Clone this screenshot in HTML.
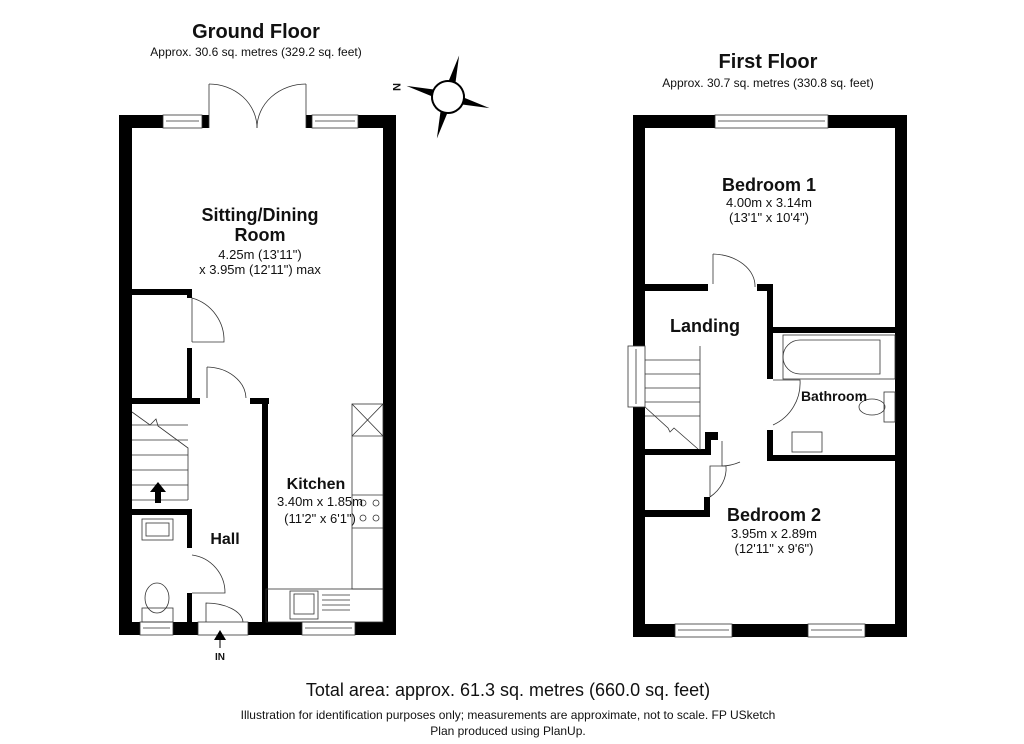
<!DOCTYPE html>
<html><head><meta charset="utf-8"><style>
html,body{margin:0;padding:0;background:#fff;}
svg{display:block;}
text{font-family:"Liberation Sans",Arial,sans-serif;fill:#111;}
.b{font-weight:bold;}
</style></head><body>
<svg width="1024" height="744" viewBox="0 0 1024 744" xmlns="http://www.w3.org/2000/svg">
<text x="256" y="38" font-size="20" class="b" text-anchor="middle">Ground Floor</text>
<text x="256" y="56" font-size="12" text-anchor="middle">Approx. 30.6 sq. metres (329.2 sq. feet)</text>
<text x="768" y="68" font-size="20" class="b" text-anchor="middle">First Floor</text>
<text x="768" y="87" font-size="12" text-anchor="middle">Approx. 30.7 sq. metres (330.8 sq. feet)</text>

<!-- Compass -->
<g transform="translate(448 97) rotate(15)">
<polygon points="0,-43 4,-12 -4,-12" fill="#000"/>
<polygon points="0,43 4,12 -4,12" fill="#000"/>
<polygon points="-43,0 -12,-4 -12,4" fill="#000"/>
<polygon points="43,0 12,-4 12,4" fill="#000"/>
<circle cx="0" cy="0" r="16" fill="#fff" stroke="#000" stroke-width="2"/>
</g>
<text x="0" y="0" font-size="11" class="b" text-anchor="middle" transform="translate(393 87) rotate(90)">N</text>

<!-- GROUND FLOOR walls -->
<g fill="#000">
<rect x="119" y="115" width="13" height="520"/>
<rect x="383" y="115" width="13" height="520"/>
<rect x="119" y="115" width="44" height="13"/>
<rect x="202" y="115" width="7" height="13"/>
<rect x="306" y="115" width="6" height="13"/>
<rect x="358" y="115" width="38" height="13"/>
<rect x="119" y="622" width="21" height="13"/>
<rect x="173" y="622" width="25" height="13"/>
<rect x="248" y="622" width="54" height="13"/>
<rect x="355" y="622" width="41" height="13"/>
<rect x="132" y="289" width="60" height="6"/>
<rect x="187" y="289" width="5" height="9"/>
<rect x="187" y="348" width="5" height="55"/>
<rect x="132" y="398" width="68" height="6"/>
<rect x="250" y="398" width="19" height="6"/>
<rect x="262" y="398" width="6" height="224"/>
<rect x="132" y="509" width="60" height="6"/>
<rect x="187" y="509" width="5" height="39"/>
<rect x="187" y="593" width="5" height="29"/>
</g>
<g fill="none" stroke="#333" stroke-width="0.8">
<rect x="163" y="115" width="39" height="13"/><line x1="166" y1="121" x2="199" y2="121"/>
<rect x="312" y="115" width="46" height="13"/><line x1="315" y1="121" x2="355" y2="121"/>
<rect x="140" y="622" width="33" height="13"/><line x1="143" y1="628" x2="170" y2="628"/>
<rect x="302" y="622" width="53" height="13"/><line x1="305" y1="628" x2="352" y2="628"/>
<line x1="209" y1="128" x2="209" y2="84"/><path d="M209,84 A48,44 0 0 1 257,128"/>
<line x1="306" y1="128" x2="306" y2="84"/><path d="M306,84 A49,44 0 0 0 257,128"/>
<line x1="192" y1="298" x2="192" y2="342"/><path d="M192,298 A44,44 0 0 1 224,342 L192,342"/>
<line x1="207" y1="398" x2="207" y2="367"/><path d="M207,367 A40,32 0 0 1 246,398"/>
<path d="M192,555 A38,38 0 0 1 225,593 L192,593"/>
<rect x="198" y="622" width="50" height="13"/>
<path d="M206,622 L206,603 A37,20 0 0 1 243,622"/>
<path d="M132,412 L150,425 L156,419 L158,426 L188,448 L188,500"/>
<line x1="132" y1="425" x2="188" y2="425"/><line x1="132" y1="440" x2="188" y2="440"/>
<line x1="132" y1="455" x2="188" y2="455"/><line x1="132" y1="470" x2="188" y2="470"/>
<line x1="132" y1="485" x2="188" y2="485"/><line x1="132" y1="500" x2="188" y2="500"/>
<rect x="142" y="519" width="31" height="21"/><rect x="146" y="523" width="23" height="13"/>
<ellipse cx="157" cy="598" rx="12" ry="15"/><rect x="142" y="608" width="31" height="14"/>
<rect x="352" y="404" width="31" height="185"/>
<line x1="352" y1="404" x2="383" y2="436"/><line x1="383" y1="404" x2="352" y2="436"/>
<line x1="352" y1="436" x2="383" y2="436"/>
<line x1="352" y1="495" x2="383" y2="495"/><line x1="352" y1="528" x2="383" y2="528"/>
<circle cx="363" cy="503" r="3"/><circle cx="376" cy="503" r="3"/><circle cx="363" cy="518" r="3"/><circle cx="376" cy="518" r="3"/>
<rect x="266" y="589" width="117" height="33"/>
<rect x="290" y="591" width="28" height="28"/><rect x="294" y="594" width="20" height="20"/>
<line x1="322" y1="595" x2="350" y2="595"/><line x1="322" y1="600" x2="350" y2="600"/><line x1="322" y1="605" x2="350" y2="605"/><line x1="322" y1="610" x2="350" y2="610"/>
</g>
<polygon points="158,482 150,492 155,492 155,503 161,503 161,492 166,492" fill="#000"/>
<polygon points="220,630 214,640 226,640" fill="#000"/><line x1="220" y1="640" x2="220" y2="648" stroke="#000"/>
<text x="220" y="660" font-size="10" class="b" text-anchor="middle">IN</text>

<text x="260" y="221" font-size="18" class="b" text-anchor="middle">Sitting/Dining</text>
<text x="260" y="241" font-size="18" class="b" text-anchor="middle">Room</text>
<text x="260" y="259" font-size="13" text-anchor="middle">4.25m (13'11")</text>
<text x="260" y="274" font-size="13" text-anchor="middle">x 3.95m (12'11") max</text>
<text x="316" y="489" font-size="16" class="b" text-anchor="middle">Kitchen</text>
<text x="320" y="506" font-size="13" text-anchor="middle">3.40m x 1.85m</text>
<text x="320" y="523" font-size="13" text-anchor="middle">(11'2" x 6'1")</text>
<text x="225" y="544" font-size="16" class="b" text-anchor="middle">Hall</text>

<!-- FIRST FLOOR walls -->
<g fill="#000">
<rect x="633" y="115" width="12" height="231"/>
<rect x="633" y="407" width="12" height="230"/>
<rect x="895" y="115" width="12" height="522"/>
<rect x="633" y="115" width="82" height="13"/>
<rect x="828" y="115" width="79" height="13"/>
<rect x="633" y="624" width="42" height="13"/>
<rect x="732" y="624" width="76" height="13"/>
<rect x="865" y="624" width="42" height="13"/>
<rect x="645" y="284" width="63" height="7"/>
<rect x="757" y="284" width="16" height="7"/>
<rect x="767" y="284" width="6" height="95"/>
<rect x="773" y="327" width="122" height="6"/>
<rect x="767" y="430" width="6" height="31"/>
<rect x="767" y="455" width="128" height="6"/>
<rect x="645" y="449" width="60" height="6"/>
<rect x="705" y="432" width="13" height="8"/><rect x="705" y="432" width="6" height="23"/>
<rect x="645" y="510" width="65" height="7"/>
<rect x="704" y="497" width="6" height="20"/>
</g>
<g fill="none" stroke="#333" stroke-width="0.8">
<rect x="715" y="115" width="113" height="13"/><line x1="718" y1="121" x2="825" y2="121"/>
<rect x="675" y="624" width="57" height="13"/><line x1="678" y1="630" x2="729" y2="630"/>
<rect x="808" y="624" width="57" height="13"/><line x1="811" y1="630" x2="862" y2="630"/>
<rect x="628" y="346" width="17" height="61"/><line x1="636" y1="349" x2="636" y2="404"/>
<line x1="713" y1="284" x2="713" y2="254"/><path d="M713,254 A44,32 0 0 1 755,287"/>
<path d="M773,380 L800,380 A46,46 0 0 1 773,425"/>
<path d="M710,497 L710,466 L726,466 A45,37 0 0 1 710,497"/>
<path d="M722,441 L722,466 A48,48 0 0 0 740,462"/>
<line x1="700" y1="346" x2="700" y2="450"/>
<line x1="645" y1="360" x2="700" y2="360"/><line x1="645" y1="374" x2="700" y2="374"/>
<line x1="645" y1="388" x2="700" y2="388"/><line x1="645" y1="402" x2="700" y2="402"/>
<line x1="645" y1="416" x2="700" y2="416"/>
<path d="M645,407 L668,428 L670,432 L674,428 L698,449"/>
<rect x="783" y="335" width="112" height="44"/>
<path d="M800,340 L880,340 L880,374 L800,374 A17,17 0 0 1 800,340 Z"/>
<rect x="884" y="392" width="11" height="30"/><ellipse cx="872" cy="407" rx="13" ry="8"/>
<rect x="792" y="432" width="30" height="20"/>
</g>
<text x="769" y="191" font-size="18" class="b" text-anchor="middle">Bedroom 1</text>
<text x="769" y="207" font-size="13" text-anchor="middle">4.00m x 3.14m</text>
<text x="769" y="222" font-size="13" text-anchor="middle">(13'1" x 10'4")</text>
<text x="705" y="332" font-size="18" class="b" text-anchor="middle">Landing</text>
<text x="834" y="401" font-size="14" class="b" text-anchor="middle">Bathroom</text>
<text x="774" y="521" font-size="18" class="b" text-anchor="middle">Bedroom 2</text>
<text x="774" y="538" font-size="13" text-anchor="middle">3.95m x 2.89m</text>
<text x="774" y="553" font-size="13" text-anchor="middle">(12'11" x 9'6")</text>

<text x="508" y="696" font-size="18" text-anchor="middle">Total area: approx. 61.3 sq. metres (660.0 sq. feet)</text>
<text x="508" y="719" font-size="12" text-anchor="middle">Illustration for identification purposes only; measurements are approximate, not to scale. FP USketch</text>
<text x="508" y="735" font-size="12" text-anchor="middle">Plan produced using PlanUp.</text>
</svg>
</body></html>
